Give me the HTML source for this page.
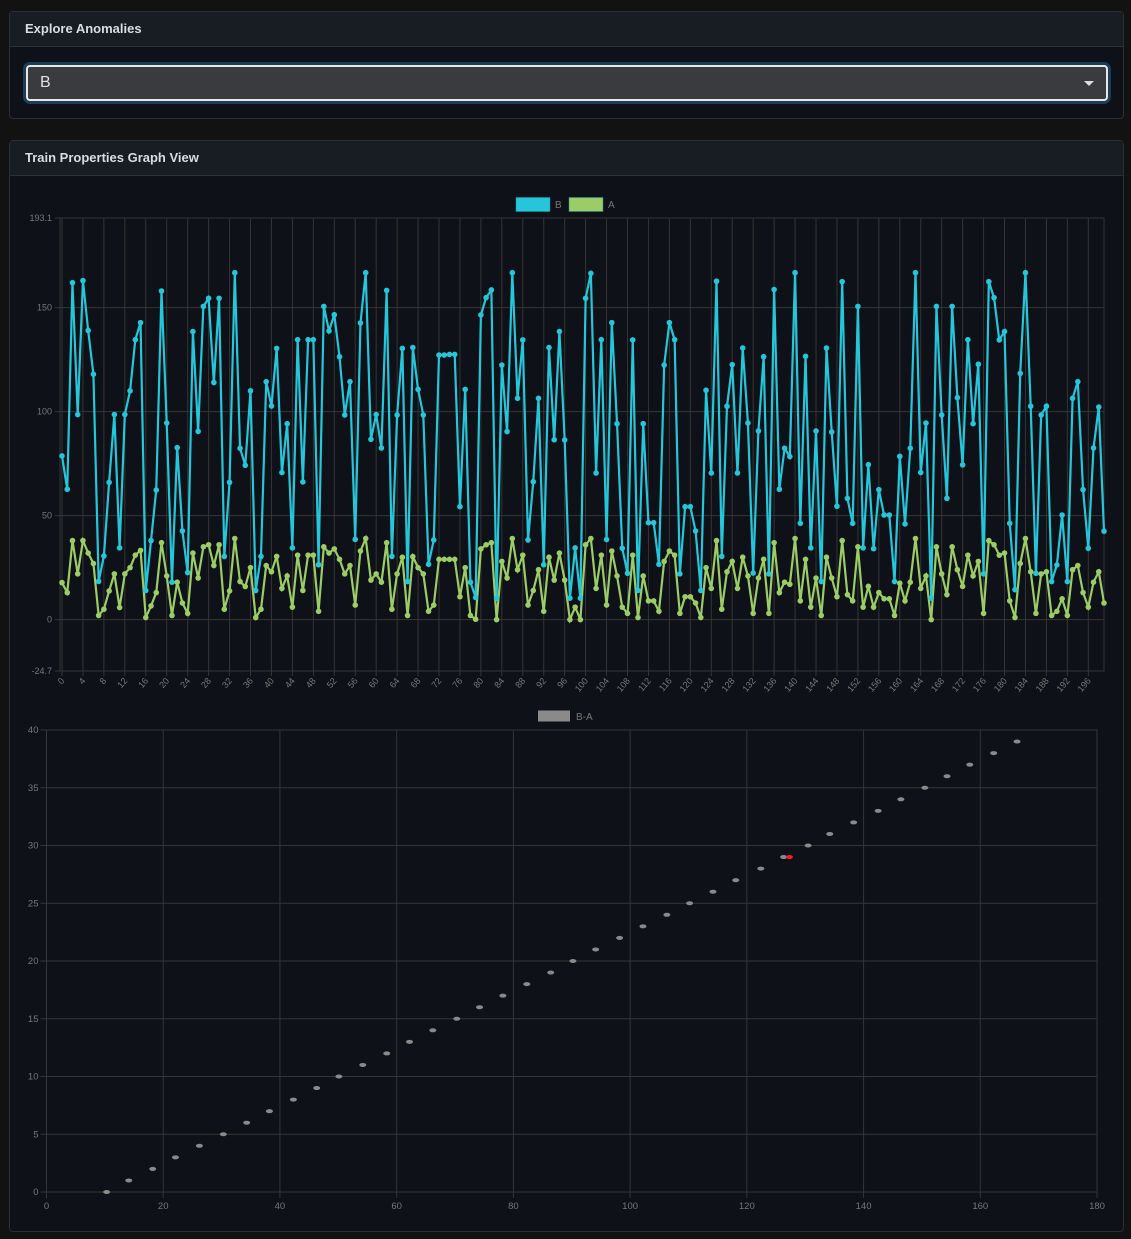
<!DOCTYPE html>
<html><head><meta charset="utf-8">
<style>
html,body{margin:0;padding:0;background:#121212;width:1131px;height:1239px;overflow:hidden;font-family:"Liberation Sans",sans-serif;}
.card{position:absolute;left:9px;width:1115px;background:#0e1117;border:1px solid #2a2f36;border-radius:4px;box-sizing:border-box;}
.hdr{height:35px;background:#181d24;border-bottom:1px solid #2c323a;color:#d8dde3;font-weight:bold;font-size:13px;line-height:34px;padding-left:15px;box-sizing:border-box;}
.sel{position:absolute;left:16px;top:53px;width:1082px;height:36px;background:#3a3b3f;border:2px solid #e8e8e8;border-radius:4px;box-sizing:border-box;box-shadow:0 0 0 3px rgba(40,90,130,.6);color:#e0e0e0;font-size:16px;line-height:32px;padding-left:12px;}
.caret{position:absolute;right:12px;top:14px;width:0;height:0;border-left:5px solid transparent;border-right:5px solid transparent;border-top:5px solid #ddd;}
svg text{font-family:"Liberation Sans",sans-serif;}
</style></head><body>
<div class="card" style="top:11px;height:108px;">
<div class="hdr">Explore Anomalies</div>
<div class="sel">B<span class="caret"></span></div>
</div>
<div class="card" style="top:140px;height:1092px;">
<div class="hdr">Train Properties Graph View</div>
</div>
<svg id="svg" width="1131" height="1239" style="position:absolute;left:0;top:0"></svg>
<script>
const indices = Array.from({length:200},(_, i)=>i);
const seriesB = [78.7,62.7,162,98.6,163,139,118,18.4,30.6,66,98.6,34.5,98.6,110,134.6,142.8,14,38,62.3,158,94.5,18,82.7,42.6,22.6,138.5,90.5,150.6,154.5,114,154.5,30.4,66,166.8,
82.4,74.2,110,14,30.4,114.4,102.7,130.4,70.7,94.2,34.5,134.6,66.2,134.6,134.6,26.4,150.6,138.8,146.6,126.4,98.4,114.4,38.6,142.6,166.8,86.7,98.6,82.5,158.3,30.4,98.4,130.4,18.3,
130.8,110.7,98.4,26.6,38.3,127.2,127.2,127.5,127.5,54.3,110.7,18,10.6,146.5,154.8,158.5,10.3,122.4,90.4,166.8,106.4,134.5,38.3,66.3,106.4,26.4,130.8,86.5,138.5,86.4,10.3,34.5,10.3,
154.5,166.5,70.5,134.6,38.5,142.8,94.2,34.3,22.3,134.5,14,94.2,46.6,46.6,26.6,122.4,142.8,134.6,22,54.3,54.3,42.6,14,110.3,70.5,162.7,30.4,102.6,122.6,70.5,130.6,94.5,22.4,90.7,
126.4,22,158.7,62.7,82.4,78.4,166.8,46.3,126.6,34.5,90.7,18.3,130.6,90.2,54.5,162.5,58.3,46.3,150.6,34.5,74.5,34.1,62.5,50.3,50.3,18.3,78.5,46,82.4,166.8,70.7,94.5,10.3,
150.6,98.4,58.3,150.6,106.7,74.4,134.6,94.2,122.8,22,162.5,154.8,134.5,138.5,46.3,14.4,118.4,166.8,102.6,22.3,98.4,102.6,18.3,26.3,50.3,18.3,106.4,114.4,62.5,34.3,82.5,102.2,42.5];
const seriesA = [17.8,13,38,22,38,32,27,2,5,13.8,22,5.8,22,25,31,33.3,1,6.6,13,37,21,2,18,8,3,32,20,35,36,26,36,5,13.8,39,
18.3,15.9,25,1,5,26,23,30.4,15,21,6,31,14,31,31,4,35,32,34,29,22,26,7,33,39,19,22,18,37,5,22,30,2,
30.3,25,22,4,7,29,29,29,29,11,25,2,0.2,34,36,37,0,28,20,39,24,31,7,14,24,4,30,19,32,19,0,6,0,
36,39,15,31,7,33,21,6,3,31,1,21,9,9,4,28,33,31,3,11,11,8,1,25,15,38,5,23,28,15,30,21,3,20,
29,3,37,13,18,17,39,9,29,6,20,2,30,20,11,38,12,9,35,6,16,6,13,10,10,2,17.5,9,18,39,15,21,0,
35,22,12,35,24,16,31,21,28,3,38,36,31,32,9,1,27,39,23,3,22,23,2,4,10,2,24,26,13,6,18,23,8];
const yTicks1 = [0,50,100,150];
const yMin1 = -24.7, yMax1 = 193.1;
const diffX = [10.3,14.1,18.2,22.1,26.2,30.3,34.3,38.2,42.3,46.3,50.1,54.2,58.3,62.2,66.2,70.3,74.2,78.2,82.3,86.4,90.2,94.1,98.2,102.2,106.3,110.2,114.2,118.1,122.4,126.3,130.5,134.2,138.3,142.5,146.4,150.5,154.3,158.2,162.3,166.3];
const diffY = [0,1,2,3,4,5,6,7,8,9,10,11,12,13,14,15,16,17,18,19,20,21,22,23,24,25,26,27,28,29,30,31,32,33,34,35,36,37,38,39];
const anomalyX = [127.3];
const anomalyY = [29];
const xTicks2 = [0,20,40,60,80,100,120,140,160,180];
const yTicks2 = [0,5,10,15,20,25,30,35,40];

const NS='http://www.w3.org/2000/svg';
const svg=document.getElementById('svg');
function mk(tag,attrs,parent){const e=document.createElementNS(NS,tag);for(const k in attrs)e.setAttribute(k,attrs[k]);(parent||svg).appendChild(e);return e;}

// chart 1
const L1=60,R1=1104,T1=218,B1=671,X0=62;
const x1=i=>X0+(R1-X0)*i/199;
const y1=v=>B1-(v-yMin1)/(yMax1-yMin1)*(B1-T1);
const g1=mk('g',{});


mk('rect',{x:L1,y:T1,width:R1-L1,height:B1-T1,fill:'none',stroke:'#333'},g1);
[yMax1,...yTicks1,yMin1].forEach(v=>{
  mk('line',{x1:L1-5,x2:R1,y1:y1(v),y2:y1(v),stroke:'#353535'},g1);
  const t=mk('text',{x:L1-8,y:y1(v)+3,'text-anchor':'end','font-size':9,fill:'#777'},g1);
  t.textContent=v;
  
  
});
indices.forEach(i=>{
  if(i%4===0){
    mk('line',{x1:x1(i),x2:x1(i),y1:T1,y2:B1+5,stroke:'#353535'},g1);
    const t=mk('text',{transform:`translate(${x1(i)+3},${B1+10}) rotate(-50)`,'text-anchor':'end','font-size':9,fill:'#777'},g1);
    t.textContent=i;
    
    
  }
});
function drawSeries(data,color,name){
  const p=mk('polyline',{points:data.map((v,i)=>x1(i)+','+y1(v)).join(' '),fill:'none',stroke:color,'stroke-width':2.2,'stroke-linejoin':'miter'},g1);
  
  
  data.forEach((v,i)=>{
    const c=mk('circle',{cx:x1(i),cy:y1(v),r:2.8,fill:color},g1);
    
    
  });
}
drawSeries(seriesA,'#9ccc65','a');
drawSeries(seriesB,'#26c6da','b');
// legend 1
[['B','#26c6da',516],['A','#9ccc65',569]].forEach(([n,c,x])=>{
  const r=mk('rect',{x:x,y:197.5,width:34,height:14,fill:c,stroke:'#1e8fa0','stroke-width':0.5},g1);
  
  
  const t=mk('text',{x:x+39,y:208,'font-size':10,fill:'#777'},g1);
  t.textContent=n;
});

// chart 2
const L2=46.5,R2=1097,T2=730,B2=1192;
const x2=v=>L2+(R2-L2)*v/180;
const y2=v=>B2-(B2-T2)*v/40;
const g2=mk('g',{});


mk('rect',{x:L2,y:T2,width:R2-L2,height:B2-T2,fill:'none',stroke:'#333'},g2);
yTicks2.forEach(v=>{
  mk('line',{x1:L2-6,x2:R2,y1:y2(v),y2:y2(v),stroke:'#353535'},g2);
  const t=mk('text',{x:L2-8,y:y2(v)+3,'text-anchor':'end','font-size':9.5,fill:'#777'},g2);
  t.textContent=v;
  
  
});
xTicks2.forEach(v=>{
  mk('line',{x1:x2(v),x2:x2(v),y1:T2,y2:B2+6,stroke:'#353535'},g2);
  const t=mk('text',{x:x2(v),y:B2+17,'text-anchor':'middle','font-size':9.5,fill:'#777'},g2);
  t.textContent=v;
  
  
});
diffX.forEach((v,i)=>{
  const e=mk('ellipse',{cx:x2(v),cy:y2(diffY[i]),rx:3.5,ry:2,fill:'#8a8a8a'},g2);
  
  
});
anomalyX.forEach((v,i)=>{
  const e=mk('ellipse',{cx:x2(v),cy:y2(anomalyY[i]),rx:3.5,ry:2,fill:'#ff1a1a'},g2);
  
  
});
const lr=mk('rect',{x:538,y:710.5,width:32,height:11,fill:'#8a8a8a'},g2);


const lt=mk('text',{x:576,y:720,'font-size':10,fill:'#777'},g2);
lt.textContent='B-A';
</script>
</body></html>
